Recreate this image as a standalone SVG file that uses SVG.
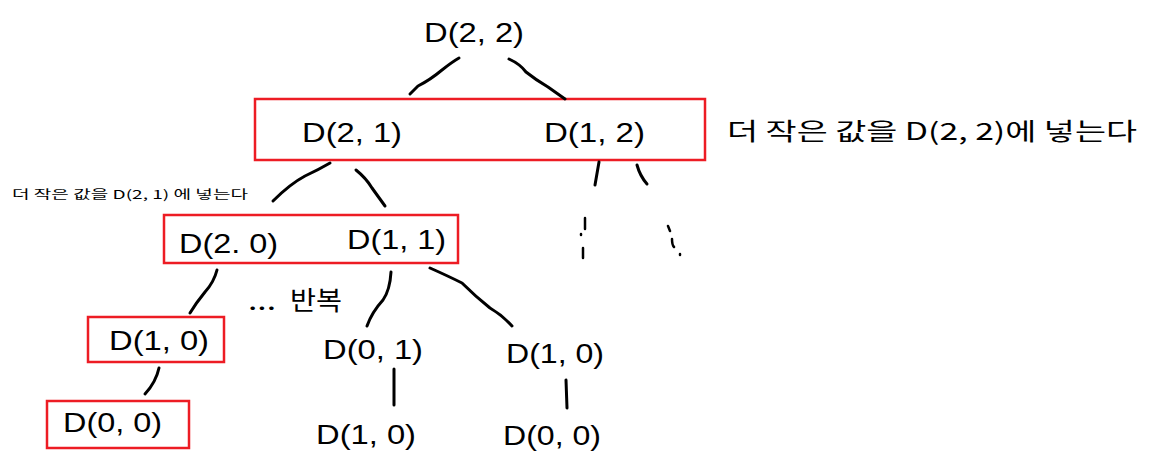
<svg xmlns="http://www.w3.org/2000/svg" width="1153" height="471" viewBox="0 0 1153 471">
<style>
.t{font-family:"Liberation Sans","Noto Sans CJK KR",sans-serif;font-size:28px;fill:#000}
.k{font-family:"Noto Sans CJK KR","Liberation Sans",sans-serif;fill:#000}
.box{fill:none;stroke:#ed1c24;stroke-width:2.5}
.ln{fill:none;stroke:#000;stroke-width:3;stroke-linecap:round;stroke-linejoin:round}
.dt{fill:none;stroke:#000;stroke-width:2.5;stroke-linecap:round}
</style>
<rect width="1153" height="471" fill="#fff"/>
<g id="n-d22"><text class="t" x="424" y="42" textLength="100" lengthAdjust="spacingAndGlyphs">D(2, 2)</text></g>
<g id="n-level1">
<rect class="box" x="255" y="99" width="450" height="61"/>
<text class="t" x="302" y="142" textLength="100" lengthAdjust="spacingAndGlyphs">D(2, 1)</text>
<text class="t" x="544" y="142" textLength="101" lengthAdjust="spacingAndGlyphs">D(1, 2)</text>
</g>
<g id="note-22"><text class="k" x="727" y="140" font-size="24" textLength="410" lengthAdjust="spacingAndGlyphs">더 작은 값을 D(2, 2)에 넣는다</text></g>
<g id="note-21"><text class="k" x="12" y="199" font-size="12" textLength="236" lengthAdjust="spacingAndGlyphs">더 작은 값을 D(2, 1) 에 넣는다</text></g>
<g id="n-level2">
<rect class="box" x="164" y="215" width="294" height="48"/>
<text class="t" x="179" y="253" textLength="99" lengthAdjust="spacingAndGlyphs">D(2. 0)</text>
<text class="t" x="347" y="249" textLength="99" lengthAdjust="spacingAndGlyphs">D(1, 1)</text>
</g>
<g id="note-rep"><text class="k" y="310" font-size="26"><tspan x="248" textLength="28" lengthAdjust="spacingAndGlyphs">...</tspan><tspan x="290" textLength="52" lengthAdjust="spacingAndGlyphs">반복</tspan></text></g>
<g id="n-d10a"><rect class="box" x="88" y="317" width="136" height="45"/><text class="t" x="109" y="350" textLength="100" lengthAdjust="spacingAndGlyphs">D(1, 0)</text></g>
<g id="n-d00a"><rect class="box" x="47" y="401" width="142" height="47"/><text class="t" x="63" y="432" textLength="99" lengthAdjust="spacingAndGlyphs">D(0, 0)</text></g>
<g id="n-d01"><text class="t" x="323" y="359" textLength="100" lengthAdjust="spacingAndGlyphs">D(0, 1)</text></g>
<g id="n-d10b"><text class="t" x="316" y="444" textLength="100" lengthAdjust="spacingAndGlyphs">D(1, 0)</text></g>
<g id="n-d10c"><text class="t" x="506" y="363" textLength="98" lengthAdjust="spacingAndGlyphs">D(1, 0)</text></g>
<g id="n-d00b"><text class="t" x="503" y="445" textLength="98" lengthAdjust="spacingAndGlyphs">D(0, 0)</text></g>
<g id="connectors">
<path class="ln" d="M459 58 Q452 62 442 70 Q430 80 418 86 L410 94"/>
<path class="ln" d="M509 59 Q520 64 526 72 Q536 80 548 87 L565 99"/>
<path class="ln" d="M330 163 Q318 170 305 176 Q290 184 273 201"/>
<path class="ln" d="M356 170 Q366 178 372 188 L385 206"/>
<path class="ln" d="M599 162 L595 185"/>
<path class="ln" d="M637 165 Q640 176 647 184"/>
<path class="dt" d="M585 218 L585 229 M581 234 L581 235 M583 248 L583 258"/>
<path class="dt" d="M668 226 L670 231 M672 239 Q672 245 674 247 M680 254 L680 255"/>
<path class="ln" d="M217 270 Q214 282 205 292 Q196 303 190 313"/>
<path class="ln" d="M159 368 Q156 382 145 394"/>
<path class="ln" d="M391 272 Q390 290 383 300 Q372 312 367 326"/>
<path class="ln" d="M394 369 L394 405"/>
<path class="ln" d="M430 268 Q448 276 462 283 Q475 296 490 308 Q502 315 512 326"/>
<path class="ln" d="M566 380 L567 408"/>
</g>
</svg>
